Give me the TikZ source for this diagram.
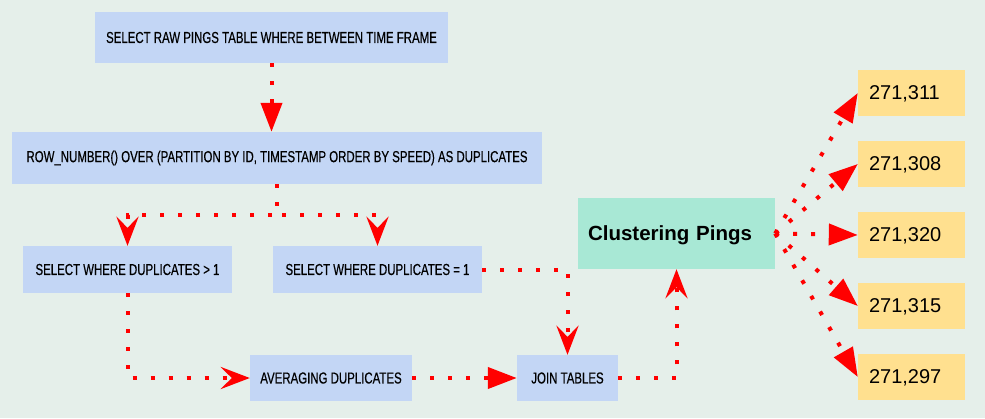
\documentclass[tikz,border=0pt]{standalone}
\usepackage{fontspec}
\setmainfont{Liberation Sans}
\newfontfamily\condfont[FakeStretch=0.72, FakeBold=0.4]{Liberation Sans}
\usetikzlibrary{arrows.meta}
\definecolor{bgcol}{HTML}{E5EFEA}
\definecolor{qblue}{HTML}{C3D6F5}
\definecolor{cgreen}{HTML}{A8E8D5}
\definecolor{ryellow}{HTML}{FFE08F}

\begin{document}
\begin{tikzpicture}[x=1pt, y=-1pt,
        query/.style={fill=qblue, inner sep=0pt, font=\condfont\fontsize{15.9}{18}\selectfont},
        result/.style={fill=ryellow, text width=85pt, inner xsep=11pt, inner ysep=0pt, text depth=0pt,
            minimum height=46pt, align=left, font=\fontsize{20}{24}\selectfont},
        link/.style={red, line width=4pt, dash pattern=on 4pt off 14pt},
        tipfull/.style={-{Triangle[length=29pt, width=21pt]}},
        tipvee/.style={-{Stealth[length=29pt, width=22pt, inset=11pt]}}]
            \fill[bgcol] (0,0) rectangle (985,418);
            \useasboundingbox (0,0) rectangle (985,418);

            \node[query, minimum width=353pt, minimum height=51pt] (A) at (271.5,37.5) {SELECT RAW PINGS TABLE WHERE BETWEEN TIME FRAME};
            \node[query, minimum width=530pt, minimum height=52pt] (B) at (277,158) {ROW\_NUMBER() OVER (PARTITION BY ID, TIMESTAMP ORDER BY SPEED) AS DUPLICATES};
            \node[query, minimum width=209pt, minimum height=47pt] (C) at (127.5,269.5) {SELECT WHERE DUPLICATES > 1};
            \node[query, minimum width=209pt, minimum height=47pt] (D) at (377.5,269.5) {SELECT WHERE DUPLICATES = 1};
            \node[query, minimum width=162pt, minimum height=46pt] (E) at (331,378) {AVERAGING DUPLICATES};
            \node[query, minimum width=101pt, minimum height=46pt] (F) at (567.5,378) {JOIN TABLES};
            \node[fill=cgreen, text width=177pt, inner sep=10pt, text depth=0pt, minimum height=71pt, align=left,
                font=\bfseries\fontsize{20.5}{24}\selectfont] (G) at (676.5,233.5) {Clustering Pings};

            \node[result] (H1) at (911.5,93) {271,311};
            \node[result] (H2) at (911.5,164) {271,308};
            \node[result] (H3) at (911.5,235) {271,320};
            \node[result] (H4) at (911.5,306) {271,315};
            \node[result] (H5) at (911.5,377) {271,297};

            \draw[link, tipfull] (A.south) -- (A.south |- B.north);
            \draw[link, tipvee] (B.south) -- ++(0,31) -| (C.north);
            \draw[link, tipvee] (B.south) -- ++(0,31) -| (D.north);
            \draw[link, tipvee] (C.south) |- (E.west);
            \draw[link, tipfull] (E) -- (F);
            \draw[link, tipvee] (D.east) -| (F.north);
            \draw[link, tipvee] (F.east) -| (G.south);

            \draw[link, tipfull] (G.east) -- (H1.west);
            \draw[link, tipfull] (G.east) -- (H2.west);
            \draw[link, tipfull] (G.east) -- (H3.west);
            \draw[link, tipfull] (G.east) -- (H4.west);
            \draw[link, tipfull] (G.east) -- (H5.west);
        \end{tikzpicture}
\end{document}
